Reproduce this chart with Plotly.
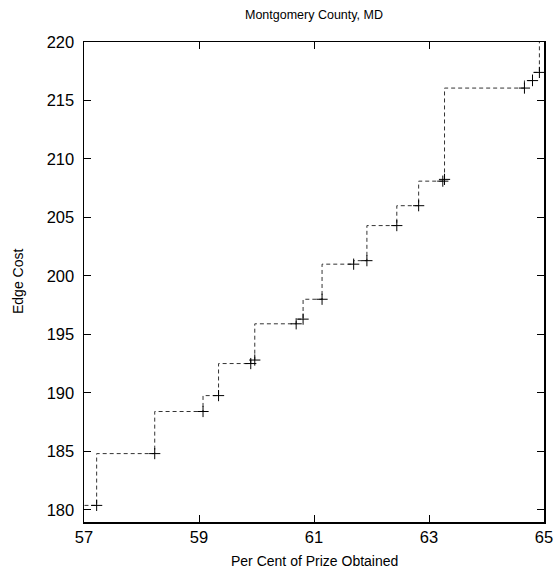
import plotly.graph_objects as go

# Data points (Per Cent of Prize Obtained, Edge Cost)
prize = [57.22, 58.23, 59.07, 59.34, 59.90, 59.97, 60.69, 60.81, 61.14,
         61.69, 61.92, 62.44, 62.82, 63.24, 63.27, 64.66, 64.80, 64.92]
cost = [180.37, 184.8, 188.4, 189.76, 192.5, 192.8, 195.9, 196.3, 198.0,
        201.0, 201.3, 204.3, 206.0, 208.1, 208.25, 216.06, 216.7, 217.4]
# Off-range neighbours that the step line runs to (clipped by the axes)
prize_before, cost_before = 56.8, 179.0
prize_after, cost_after = 65.5, 222.0

title_text = "Montgomery County, MD"
x_title = "Per Cent of Prize Obtained"
y_title = "Edge Cost"
x_ticks = [57, 59, 61, 63, 65]
y_ticks = [180, 185, 190, 195, 200, 205, 210, 215, 220]

FONT = "Liberation Sans, Arial, sans-serif"
W, H = 557, 571
L, R, T, B = 84, 13, 42, 49

fig = go.Figure()
fig.add_trace(go.Scatter(
    x=[prize_before] + prize + [prize_after],
    y=[cost_before] + cost + [cost_after],
    mode="lines",
    line=dict(shape="vh", dash="4px,3px", color="#333333", width=1),
    hoverinfo="skip",
))
fig.add_trace(go.Scatter(
    x=prize, y=cost, mode="markers",
    marker=dict(symbol="cross-thin", size=8, line=dict(color="black", width=1)),
    cliponaxis=False,
))

axis_common = dict(
    showline=True, linecolor="black", linewidth=1.5, mirror="ticks",
    ticks="inside", ticklen=7, tickwidth=1, tickcolor="black",
    showgrid=False, zeroline=False, automargin=False,
    tickfont=dict(family=FONT, size=16.5, color="black"),
)

fig.update_layout(
    width=W, height=H,
    margin=dict(l=L, r=R, t=T, b=B, autoexpand=False),
    paper_bgcolor="white", plot_bgcolor="white",
    showlegend=False,
    title=dict(text=title_text, x=(L + (W - R)) / 2 / W, xanchor="center",
               y=1 - 15 / H, yanchor="middle",
               font=dict(family=FONT, size=12.5, color="black")),
    xaxis=dict(range=[57, 65], tickvals=x_ticks, ticktext=[str(v) for v in x_ticks],
               **axis_common),
    yaxis=dict(range=[178.95, 220], tickvals=y_ticks, ticktext=[str(v) for v in y_ticks],
               ticklabelstandoff=5, **axis_common),
    annotations=[
        dict(text=x_title, xref="paper", yref="paper", x=0.5, y=-(561 - (H - B)) / (H - T - B),
             xanchor="center", yanchor="middle", showarrow=False,
             font=dict(family=FONT, size=14, color="black")),
        dict(text=y_title, xref="paper", yref="paper", x=-(L - 18) / (W - L - R), y=0.5,
             xanchor="center", yanchor="middle", showarrow=False, textangle=-90,
             font=dict(family=FONT, size=14, color="black")),
    ],
)

fig.write_html(
    "out.html",
    config={"displayModeBar": False, "staticPlot": True},
    post_script="document.body.style.margin='0';document.body.style.overflow='hidden';",
)
